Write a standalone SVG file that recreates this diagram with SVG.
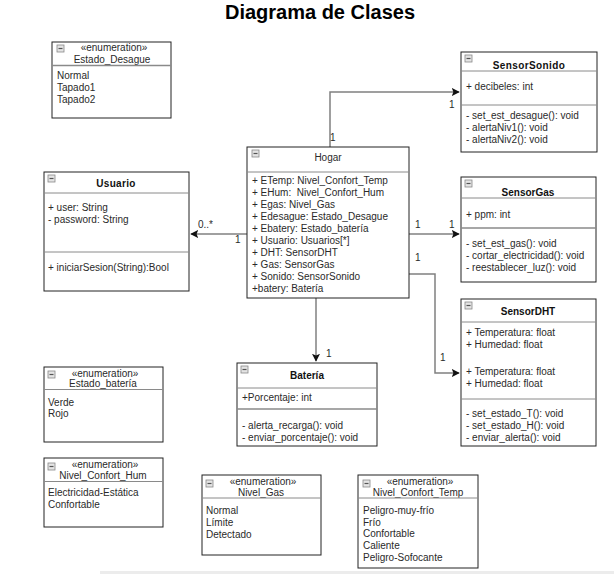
<svg xmlns="http://www.w3.org/2000/svg" width="614" height="574" viewBox="0 0 614 574">
<defs>
<style>
text{font-family:"Liberation Sans",Arial,sans-serif;font-size:10px;fill:#2a2a2a}
.t{font-size:20px;font-weight:bold;fill:#000}
.b{font-weight:bold;fill:#111}
.c{text-anchor:middle}
.box{fill:#fff;stroke:#222;stroke-width:1}
.sep{stroke:#8a8a8a;stroke-width:1}
.hsep{stroke:#8a8a8a;stroke-width:1.6}
.ico{fill:#e4e4e4;stroke:#888;stroke-width:0.8}
.icl{stroke:#555;stroke-width:1.2}
.con{fill:none;stroke:#808080;stroke-width:1.5}
</style>
<marker id="arr" viewBox="0 0 10 10" refX="9" refY="5" markerWidth="8" markerHeight="8" markerUnits="userSpaceOnUse" orient="auto">
<path d="M0,0 L10,5 L0,10 L2,5 Z" fill="#111"/>
</marker>
<g id="icon"><rect class="ico" x="0" y="0" width="7" height="7"/><line class="icl" x1="1.5" y1="3.5" x2="5.5" y2="3.5"/></g>
</defs>
<rect x="0" y="0" width="614" height="574" fill="#fff"/>
<rect x="100" y="571" width="514" height="3" fill="#ececec"/>
<text class="t c" x="320" y="19">Diagrama de Clases</text>

<g id="connectors">
<path class="con" d="M330,147 V92 H459" marker-end="url(#arr)"/>
<path class="con" d="M409,234 H459" marker-end="url(#arr)"/>
<path class="con" d="M409,274 H435 V373 H459" marker-end="url(#arr)"/>
<path class="con" d="M316,298 V361" marker-end="url(#arr)"/>
<path class="con" d="M247,234 H191" marker-end="url(#arr)"/>
<text x="330" y="141">1</text>
<text x="449" y="108">1</text>
<text x="415" y="228">1</text>
<text x="449" y="228">1</text>
<text x="415" y="261">1</text>
<text x="440" y="361">1</text>
<text x="326" y="357">1</text>
<text x="198" y="228">0..*</text>
<text x="235" y="243">1</text>
</g>

<g id="Estado_Desague">
<rect class="box" x="52" y="42" width="119" height="76"/>
<use href="#icon" x="57" y="45"/>
<text class="c" x="114" y="51">«enumeration»</text>
<text class="c" x="112" y="63">Estado_Desague</text>
<line class="hsep" x1="52" y1="65.5" x2="171" y2="65.5"/>
<text x="57" y="79">Normal</text>
<text x="57" y="91">Tapado1</text>
<text x="57" y="103">Tapado2</text>
</g>

<g id="Usuario">
<rect class="box" x="44" y="172" width="145" height="119"/>
<use href="#icon" x="48" y="175"/>
<text class="b c" x="116" y="187" letter-spacing="0.3">Usuario</text>
<line class="sep" x1="44" y1="193" x2="189" y2="193"/>
<text x="48" y="210.5">+ user: String</text>
<text x="48" y="222.5">- password: String</text>
<line class="sep" x1="44" y1="252" x2="189" y2="252"/>
<text x="48" y="270.5">+ iniciarSesion(String):Bool</text>
</g>

<g id="Hogar">
<rect class="box" x="247" y="147" width="162" height="151"/>
<use href="#icon" x="252" y="150"/>
<text class="c" x="328" y="161">Hogar</text>
<line class="sep" x1="247" y1="172" x2="409" y2="172"/>
<text x="252" y="183.5">+ ETemp: Nivel_Confort_Temp</text>
<text x="252" y="195.5" xml:space="preserve">+ EHum:  Nivel_Confort_Hum</text>
<text x="252" y="207.5">+ Egas: Nivel_Gas</text>
<text x="252" y="219.5">+ Edesague: Estado_Desague</text>
<text x="252" y="231.5">+ Ebatery: Estado_batería</text>
<text x="252" y="243.5">+ Usuario: Usuarios[*]</text>
<text x="252" y="255.5">+ DHT: SensorDHT</text>
<text x="252" y="267.5">+ Gas: SensorGas</text>
<text x="252" y="279.5">+ Sonido: SensorSonido</text>
<text x="252" y="291.5">+batery: Batería</text>
</g>

<g id="SensorSonido">
<rect class="box" x="461" y="52" width="136" height="100"/>
<use href="#icon" x="465" y="55"/>
<text class="b c" x="529" y="68.5" letter-spacing="0.4">SensorSonido</text>
<line class="sep" x1="461" y1="71" x2="597" y2="71"/>
<text x="466" y="90">+ decibeles: int</text>
<line class="sep" x1="461" y1="105" x2="597" y2="105"/>
<text x="466" y="119">- set_est_desague(): void</text>
<text x="466" y="131">- alertaNiv1(): void</text>
<text x="466" y="143">- alertaNiv2(): void</text>
</g>

<g id="SensorGas">
<rect class="box" x="461" y="177" width="135" height="105"/>
<use href="#icon" x="465" y="180"/>
<text class="b c" x="528" y="195.5">SensorGas</text>
<line class="sep" x1="461" y1="198" x2="596" y2="198"/>
<text x="466" y="217.5">+ ppm: int</text>
<line class="hsep" x1="461" y1="228" x2="596" y2="228"/>
<text x="466" y="246.5">- set_est_gas(): void</text>
<text x="466" y="258.5">- cortar_electricidad(): void</text>
<text x="466" y="270.5">- reestablecer_luz(): void</text>
</g>

<g id="SensorDHT">
<rect class="box" x="461" y="299" width="135" height="147"/>
<use href="#icon" x="465" y="302"/>
<text class="b c" x="528" y="314.5">SensorDHT</text>
<line class="sep" x1="461" y1="322" x2="596" y2="322"/>
<text x="466" y="336">+ Temperatura: float</text>
<text x="466" y="348">+ Humedad: float</text>
<text x="466" y="375">+ Temperatura: float</text>
<text x="466" y="387">+ Humedad: float</text>
<line class="sep" x1="461" y1="399" x2="596" y2="399"/>
<text x="466" y="417">- set_estado_T(): void</text>
<text x="466" y="429">- set_estado_H(): void</text>
<text x="466" y="441">- enviar_alerta(): void</text>
</g>

<g id="Bateria">
<rect class="box" x="237" y="363" width="140" height="83"/>
<use href="#icon" x="241" y="366"/>
<text class="b c" x="307" y="379">Batería</text>
<line class="sep" x1="237" y1="388" x2="377" y2="388"/>
<text x="242" y="401">+Porcentaje: int</text>
<line class="hsep" x1="237" y1="409" x2="377" y2="409"/>
<text x="242" y="428.5">- alerta_recarga(): void</text>
<text x="242" y="440.5">- enviar_porcentaje(): void</text>
</g>

<g id="Estado_bateria">
<rect class="box" x="44" y="367" width="119" height="75"/>
<use href="#icon" x="48" y="371"/>
<text class="c" x="105" y="376.5">«enumeration»</text>
<text class="c" x="103" y="387">Estado_batería</text>
<line class="sep" x1="44" y1="389.5" x2="163" y2="389.5"/>
<text x="48" y="405.5">Verde</text>
<text x="48" y="416.5">Rojo</text>
</g>

<g id="Nivel_Confort_Hum">
<rect class="box" x="44" y="458" width="119" height="69"/>
<use href="#icon" x="48" y="463"/>
<text class="c" x="105" y="467.5">«enumeration»</text>
<text class="c" x="103" y="479">Nivel_Confort_Hum</text>
<line class="sep" x1="44" y1="481.5" x2="163" y2="481.5"/>
<text x="48" y="495.5">Electricidad-Estática</text>
<text x="48" y="507.5">Confortable</text>
</g>

<g id="Nivel_Gas">
<rect class="box" x="202" y="475" width="119" height="80"/>
<use href="#icon" x="206" y="480"/>
<text class="c" x="263" y="484.5">«enumeration»</text>
<text class="c" x="261" y="496">Nivel_Gas</text>
<line class="sep" x1="202" y1="498" x2="321" y2="498"/>
<text x="206" y="513.5">Normal</text>
<text x="206" y="525.5">Límite</text>
<text x="206" y="537.5">Detectado</text>
</g>

<g id="Nivel_Confort_Temp">
<rect class="box" x="358" y="475" width="120" height="93"/>
<use href="#icon" x="363" y="480"/>
<text class="c" x="420" y="484.5">«enumeration»</text>
<text class="c" x="418" y="496">Nivel_Confort_Temp</text>
<line class="sep" x1="358" y1="498" x2="478" y2="498"/>
<text x="363" y="513.5">Peligro-muy-frío</text>
<text x="363" y="525.5">Frío</text>
<text x="363" y="537">Confortable</text>
<text x="363" y="549">Caliente</text>
<text x="363" y="561">Peligro-Sofocante</text>
</g>
</svg>
